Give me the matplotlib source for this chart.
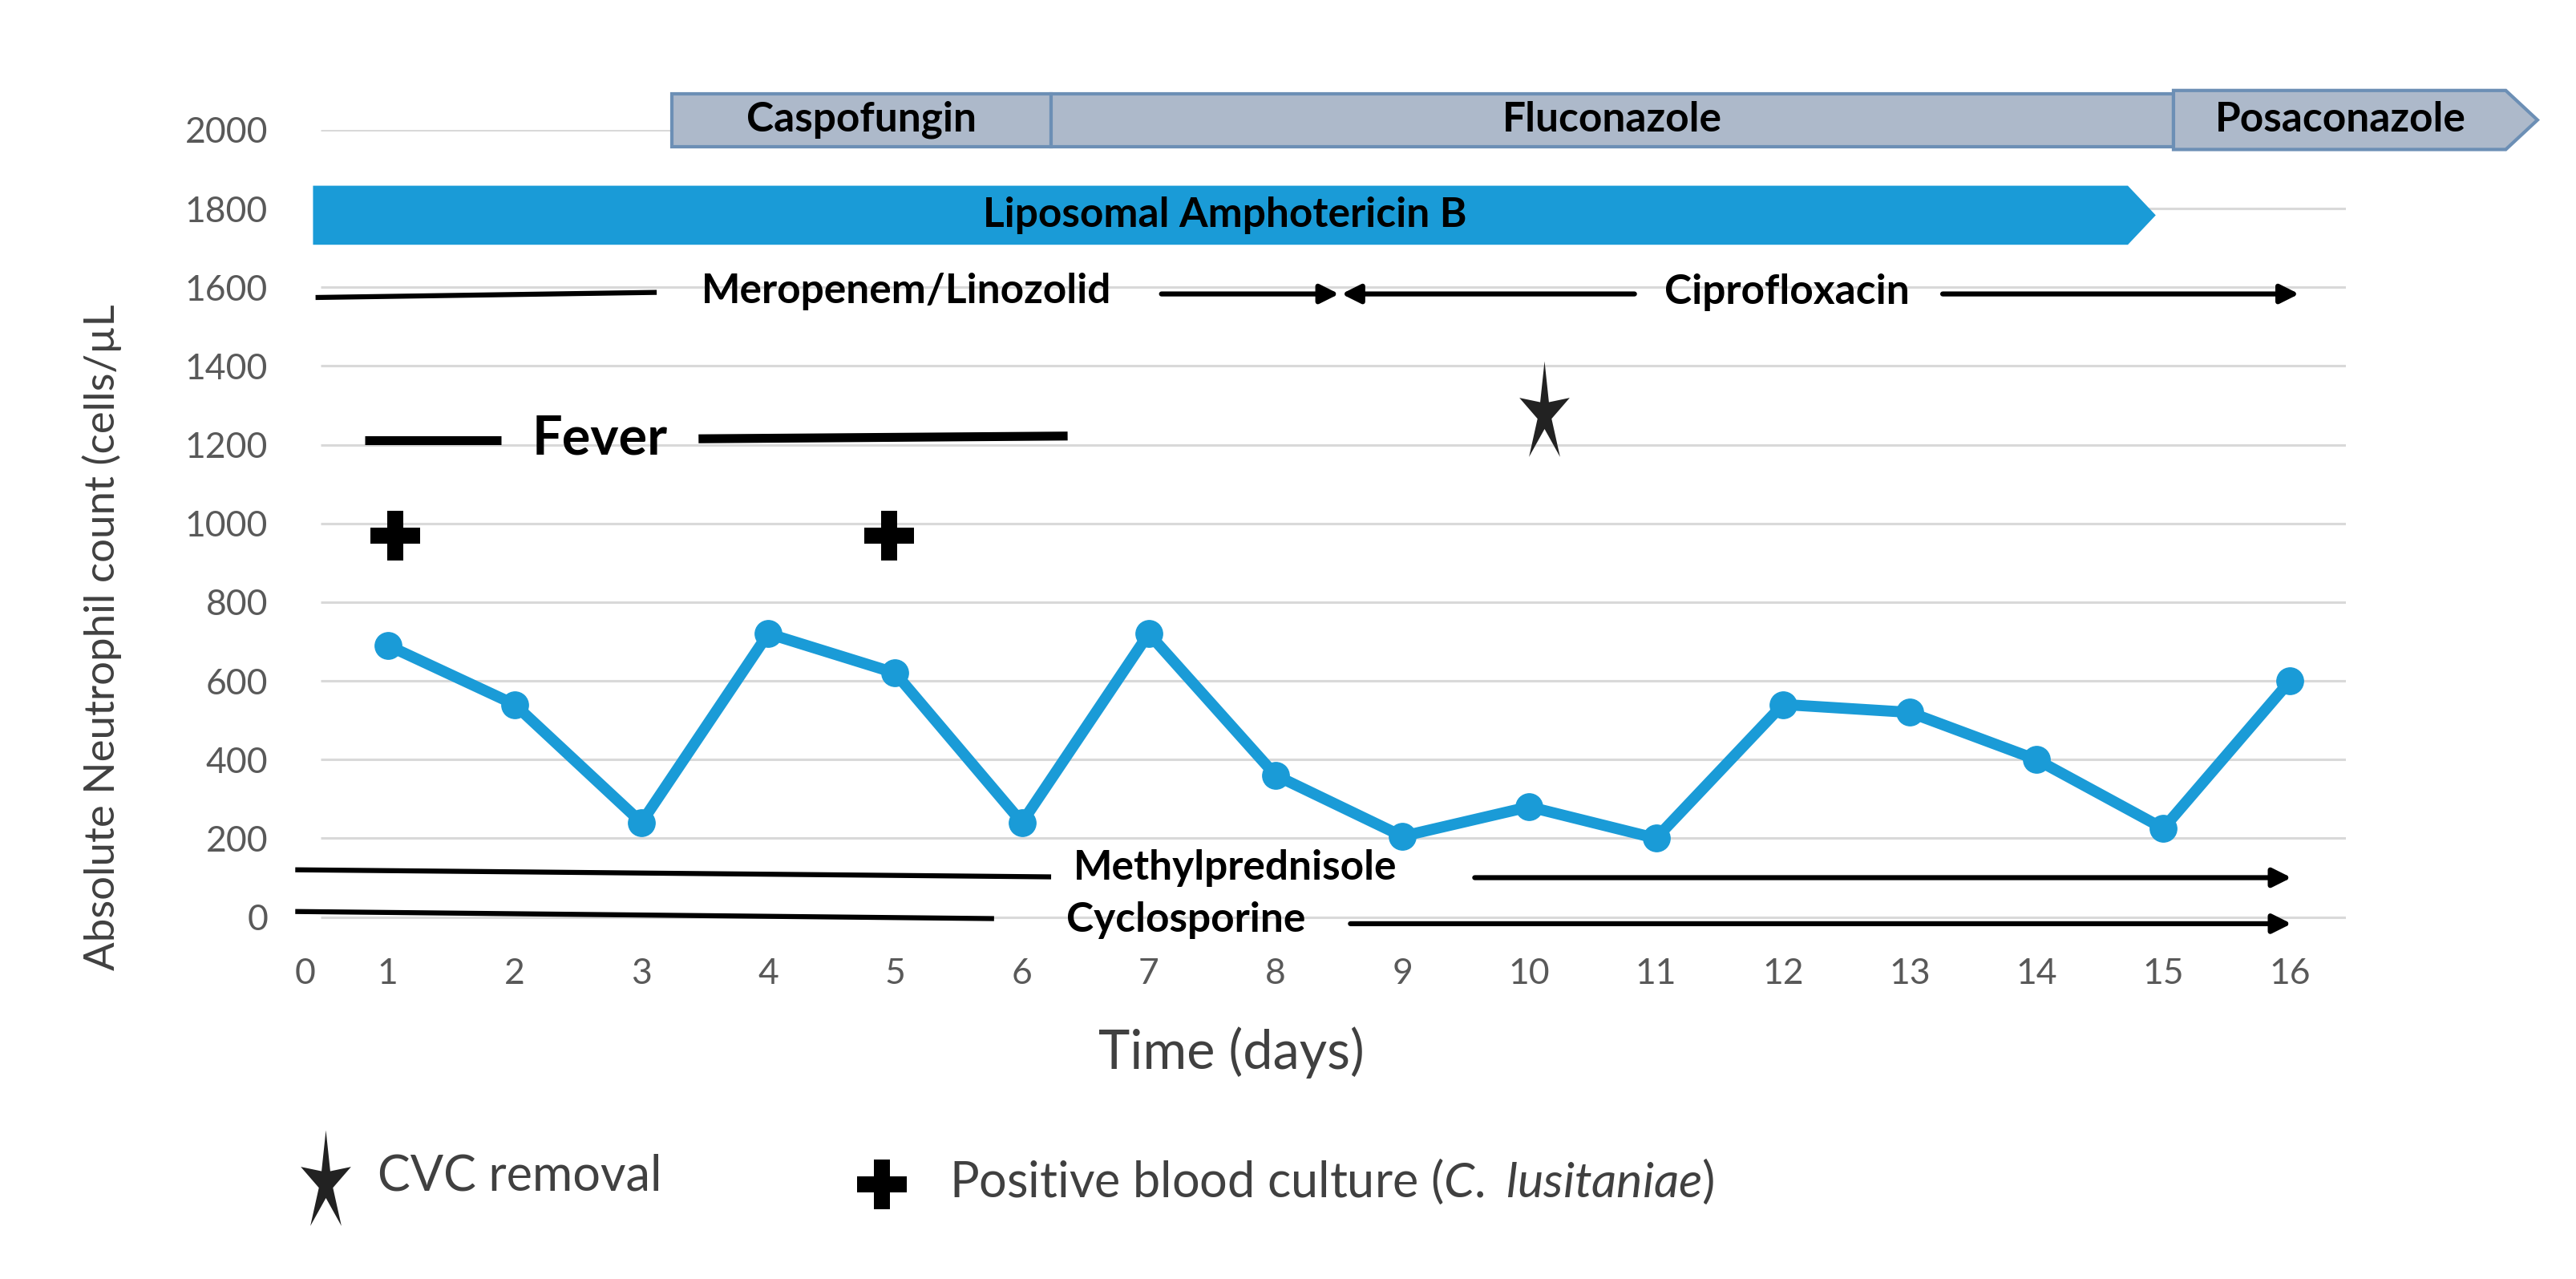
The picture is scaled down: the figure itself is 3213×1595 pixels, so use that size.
import numpy as np
import matplotlib.pyplot as plt
from matplotlib.path import Path

plt.rcParams['font.family'] = ['Lato', 'DejaVu Sans']
plt.rcParams['mathtext.fontset'] = 'custom'
plt.rcParams['mathtext.rm'] = 'Lato'
plt.rcParams['mathtext.it'] = 'Lato:italic'

# neutrophil count per day
days = np.arange(1, 17)
anc = [690, 540, 240, 720, 620, 240, 720, 360, 205, 280, 200, 540, 520, 400, 225, 600]

# antifungal bars (top row)
af_names = ['Caspofungin', 'Fluconazole', 'Posaconazole']
af_start = [3.24, 6.23, 15.08]
af_end = [6.23, 15.08, 17.95]

# liposomal amphotericin B
amb_start, amb_end = 0.41, 14.94

# events
fever_days = [0.82, 6.36]
culture_days = [1.06, 4.95]
cvc_day = 10.12

blue = '#1a9bd7'
grey_bar = '#adb9ca'
grey_edge = '#6c8fb5'
lab = 37  # bold annotation font size

fig = plt.figure(figsize=(32.13, 15.95), dpi=100)
ax = fig.add_axes([0.1161, 0.2584, 0.7946, 0.6401])
ax.set_xlim(0.30, 16.44)
ax.set_ylim(-80, 2000)

yt = np.arange(0, 2001, 200)
ax.hlines(yt, 0.47, 16.44, color='#d9d9d9', lw=2.2, zorder=0)
ax.set_yticks(yt)
ax.set_xticks([0.35] + list(days))
ax.set_xticklabels(['0'] + [str(d) for d in days])
ax.tick_params(length=0, labelsize=32, colors='#595959', pad=8)
ax.tick_params(axis='y', pad=28)
for s in ax.spines.values():
    s.set_visible(False)

# ANC line
ax.plot(days, anc, '-o', color=blue, lw=10, ms=24, zorder=5)

# antifungal top row
y0, y1 = 1958, 2092
for name, a, b in zip(af_names, af_start, af_end):
    if name == 'Posaconazole':
        tip = 0.25
        xs = [a, b - tip, b, b - tip, a]
        ys = [y0 - 8, y0 - 8, (y0 + y1) / 2, y1 + 8, y1 + 8]
    else:
        xs = [a, b, b, a]
        ys = [y0, y0, y1, y1]
    ax.fill(xs, ys, facecolor=grey_bar, edgecolor=grey_edge, lw=3, clip_on=False, zorder=3)
    ax.text((a + b) / 2 - (0.12 if name == 'Posaconazole' else 0), (y0 + y1) / 2, name,
            ha='center', va='center', fontsize=lab, fontweight='bold', clip_on=False, zorder=4)

# amphotericin
a0, a1 = 1708, 1858
ax.fill([amb_start, amb_end - 0.22, amb_end, amb_end - 0.22, amb_start],
        [a0, a0, (a0 + a1) / 2, a1, a1], facecolor=blue, edgecolor='none', clip_on=False, zorder=3)
ax.text(7.6, (a0 + a1) / 2, 'Liposomal Amphotericin B', ha='center', va='center',
        fontsize=lab, fontweight='bold', zorder=4)


def arrow(x0, y0_, x1, y1_, head=True):
    if head:
        ax.annotate('', xy=(x1, y1_), xytext=(x0, y0_),
                    arrowprops=dict(arrowstyle='-|>', lw=4.5, color='black', mutation_scale=35,
                                    shrinkA=0, shrinkB=0), annotation_clip=False)
    else:
        ax.plot([x0, x1], [y0_, y1_], color='black', lw=4.5, solid_capstyle='butt', clip_on=False)


# antibiotics
arrow(0.43, 1574, 3.12, 1587, head=False)
ax.text(5.09, 1590, 'Meropenem/Linozolid', ha='center', va='center', fontsize=lab, fontweight='bold')
arrow(7.10, 1583, 8.50, 1583)
arrow(10.83, 1583, 8.52, 1583)
ax.text(12.03, 1588, 'Ciprofloxacin', ha='center', va='center', fontsize=lab, fontweight='bold')
arrow(13.26, 1583, 16.07, 1583)

# fever
ax.plot([fever_days[0], 1.89], [1211, 1211], color='black', lw=8, solid_capstyle='butt')
ax.plot([3.45, fever_days[1]], [1215, 1222], color='black', lw=8, solid_capstyle='butt')
ax.text(2.67, 1215, 'Fever', ha='center', va='center', fontsize=48, fontweight='bold')

# immunosuppression
arrow(0.27, 120, 6.23, 102, head=False)
ax.text(7.68, 125, 'Methylprednisole', ha='center', va='center', fontsize=lab, fontweight='bold')
arrow(9.57, 100, 16.01, 100)
arrow(0.27, 14, 5.78, -4, head=False)
ax.text(7.29, -8, 'Cyclosporine', ha='center', va='center', fontsize=lab, fontweight='bold')
arrow(8.59, -17, 16.01, -17)

# star marker (tall, thin)
ang = np.linspace(np.pi / 2, np.pi / 2 + 2 * np.pi, 11)[:-1]
rad = np.array([1.0, 0.28] * 5)
star_v = np.column_stack([rad * np.cos(ang) * 0.75, rad * np.sin(ang) * 1.5])
star = Path(np.vstack([star_v, star_v[:1]]), closed=True)

ax.plot(culture_days, [969, 969], marker='P', ls='none', color='black', ms=44, mew=0)
ax.plot([cvc_day], [1278], marker=star, ls='none', color='#222222', ms=95, mew=0)

# axis labels
fig.text(0.0395, 0.2416, 'Absolute Neutrophil count (cells/\u00b5L', rotation=90,
         ha='center', va='bottom', fontsize=38, color='#404040')
fig.text(0.478, 0.177, 'Time (days)', ha='center', va='center', fontsize=48, color='#404040')

# legend
ax.plot([0.1263], [0.075], marker=star, ls='none', color='#222222', ms=95, mew=0,
        transform=fig.transFigure, clip_on=False)
fig.text(0.1467, 0.080, 'CVC removal', ha='left', va='center', fontsize=44, color='#404040')
ax.plot([0.3425], [0.074], marker='P', ls='none', color='black', ms=44, mew=0,
        transform=fig.transFigure, clip_on=False)
fig.text(0.3686, 0.076, r'Positive blood culture ($\it{C.}$ $\it{lusitaniae}$)', ha='left', va='center',
         fontsize=44, color='#404040')

fig.savefig('out.png', dpi=100)
